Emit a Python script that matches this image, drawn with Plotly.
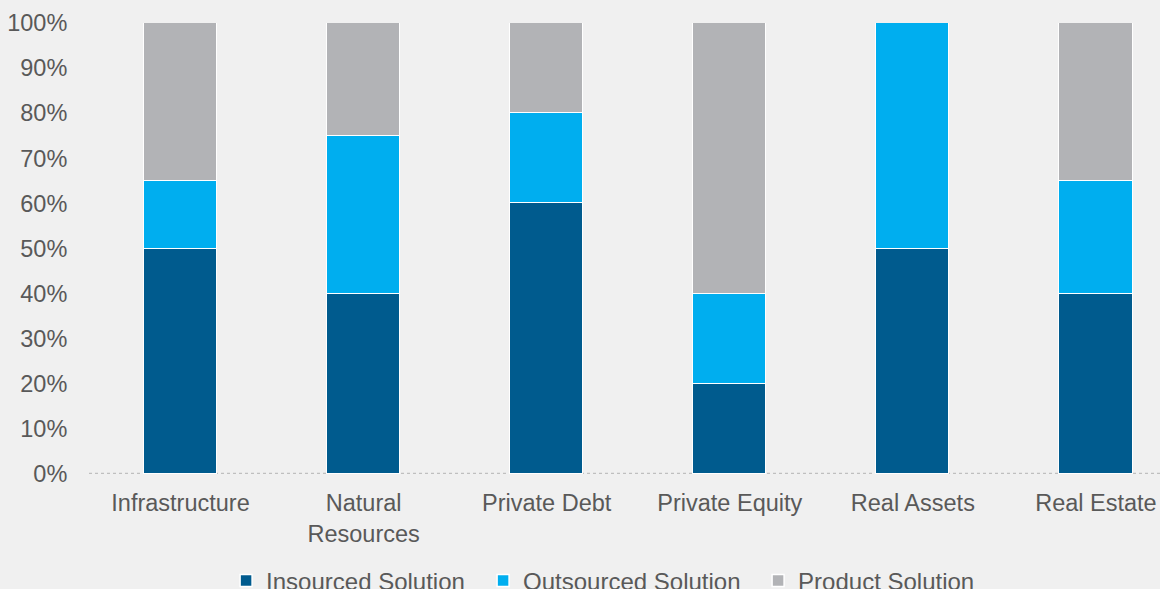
import plotly.graph_objects as go

categories = ["Infrastructure", "Natural<br>Resources", "Private Debt", "Private Equity", "Real Assets", "Real Estate"]
insourced = [0.50, 0.40, 0.60, 0.20, 0.50, 0.40]
outsourced = [0.15, 0.35, 0.20, 0.20, 0.50, 0.25]
product = [0.35, 0.25, 0.20, 0.60, 0.00, 0.35]
y_ticks = [0, 0.1, 0.2, 0.3, 0.4, 0.5, 0.6, 0.7, 0.8, 0.9, 1.0]
y_tick_labels = ["0%", "10%", "20%", "30%", "40%", "50%", "60%", "70%", "80%", "90%", "100%"]

series = [
    ("Insourced Solution", insourced, "#005B8E", 212),
    ("Outsourced Solution", outsourced, "#00AEEF", 230),
    ("Product Solution", product, "#B2B3B6", 190),
]

fig = go.Figure()
for name, vals, color, lw in series:
    fig.add_trace(go.Bar(
        x=list(range(len(categories))), y=vals, name=name,
        marker=dict(color=color, line=dict(color="white", width=1.5)),
        width=0.4, legendwidth=lw,
    ))

fig.update_layout(
    barmode="stack",
    width=1160, height=589,
    margin=dict(l=89, r=0, t=23, b=115, autoexpand=False),
    paper_bgcolor="#F0F0F0", plot_bgcolor="#F0F0F0",
    font=dict(family="Liberation Sans, Arial, sans-serif", size=23.5, color="#595959"),
    xaxis=dict(
        tickmode="array", tickvals=list(range(len(categories))), ticktext=categories,
        range=[-0.5, 5.35], showgrid=False, zeroline=False, showline=False,
        ticks="outside", ticklen=8, tickcolor="rgba(0,0,0,0)",
    ),
    yaxis=dict(
        range=[0, 1], tickvals=y_ticks, ticktext=y_tick_labels,
        showgrid=False, zeroline=False, showline=False,
        ticks="outside", ticklen=16, tickcolor="rgba(0,0,0,0)",
    ),
    legend=dict(
        orientation="h", x=0.128, xanchor="left", y=-0.237, yanchor="middle",
        font=dict(size=24, color="#595959"), bgcolor="rgba(0,0,0,0)",
        traceorder="normal",
    ),
    bargap=0,
    shapes=[dict(type="line", xref="paper", yref="y", x0=0, x1=1, y0=0, y1=0,
                 line=dict(color="#BFBFBF", width=2.5, dash="dot"), layer="below")],
)

fig.write_html("out.html")
